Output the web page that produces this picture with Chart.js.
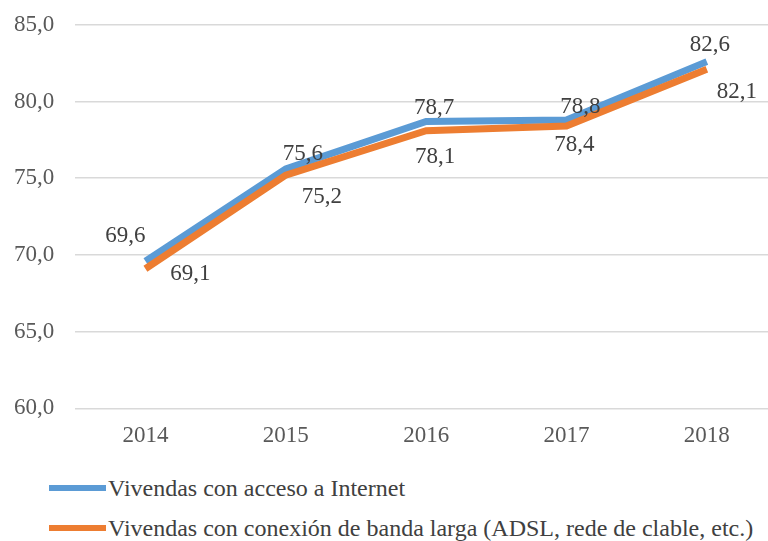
<!DOCTYPE html>
<html>
<head>
<meta charset="utf-8">
<script src="https://cdn.jsdelivr.net/npm/chart.js@4"></script>
<style>
  html, body { margin: 0; padding: 0; background: #fff; overflow: hidden; }
  #wrap { width: 797px; height: 474px; margin-left: -20px; margin-top: -10px; }
  #legend { margin-top: 4px; font-family: "Liberation Serif", "Times New Roman", "DejaVu Serif", serif; font-size: 24px; color: #404040; }
  .item { display: flex; align-items: center; height: 40px; padding-left: 49px; white-space: nowrap; }
  .swatch { width: 57px; height: 6px; margin-right: 2px; }
</style>
</head>
<body>
<div id="wrap"><canvas id="chart"></canvas></div>
<div id="legend"></div>
<script>
// Data
const years = ['2014', '2015', '2016', '2017', '2018'];
const internet = [69.6, 75.6, 78.7, 78.8, 82.6];
const bandaLarga = [69.1, 75.2, 78.1, 78.4, 82.1];
const seriesNames = [
    'Vivendas con acceso a Internet',
    'Vivendas con conexión de banda larga (ADSL, rede de clable, etc.)'
];

const blue = '#5b9bd5';
const orange = '#ed7d31';
const serif = '"Liberation Serif", "Times New Roman", "DejaVu Serif", serif';
const fmt = v => v.toFixed(1).replace('.', ',');

// label offsets (px) for each series, point by point
const labelOffsets = [
    [[-20, -25], [17, -15], [8, -14], [14, -13], [3, -17]],
    [[45, 5], [36, 22], [9, 26], [8, 19], [30, 23]]
];

const valueLabels = {
    id: 'valueLabels',
    afterDatasetsDraw(chart) {
        const ctx = chart.ctx;
        ctx.save();
        ctx.font = '23px ' + serif;
        ctx.fillStyle = '#404040';
        ctx.textAlign = 'center';
        ctx.textBaseline = 'middle';
        chart.data.datasets.forEach((ds, i) => {
            const meta = chart.getDatasetMeta(i);
            meta.data.forEach((pt, j) => {
                const off = labelOffsets[i][j];
                ctx.fillText(fmt(ds.data[j]), pt.x + off[0], pt.y + off[1]);
            });
        });
        ctx.restore();
    }
};

new Chart(document.getElementById('chart'), {
    type: 'line',
    data: {
        labels: years,
        datasets: [
            { label: seriesNames[0], data: internet, borderColor: blue, backgroundColor: blue, order: 1 },
            { label: seriesNames[1], data: bandaLarga, borderColor: orange, backgroundColor: orange, order: 0 }
        ]
    },
    options: {
        responsive: true,
        maintainAspectRatio: false,
        animation: false,
        events: [],
        elements: {
            line: { borderWidth: 7, tension: 0, borderCapStyle: 'butt', borderJoinStyle: 'miter' },
            point: { radius: 0 }
        },
        layout: { padding: { left: 13, right: 0, top: 1, bottom: 0 } },
        plugins: { legend: { display: false }, tooltip: { enabled: false } },
        scales: {
            x: {
                offset: true,
                grid: { display: false, drawTicks: false },
                border: { display: false },
                ticks: { color: '#595959', padding: 14, font: { family: serif, size: 23 } }
            },
            y: {
                min: 60,
                max: 85,
                grid: { color: '#d9d9d9', lineWidth: 1.5, drawTicks: false },
                border: { display: false },
                ticks: {
                    stepSize: 5,
                    padding: 21,
                    color: '#595959',
                    font: { family: serif, size: 23 },
                    callback: v => fmt(v)
                }
            }
        }
    },
    plugins: [valueLabels]
});

// legend below the chart
const legend = document.getElementById('legend');
[blue, orange].forEach((c, i) => {
    const row = document.createElement('div');
    row.className = 'item';
    row.innerHTML = `<span class="swatch" style="background:${c}"></span><span>${seriesNames[i]}</span>`;
    legend.appendChild(row);
});
</script>
</body>
</html>
